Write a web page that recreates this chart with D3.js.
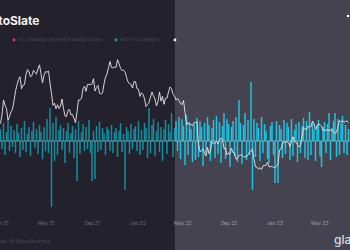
<!DOCTYPE html>
<html>
<head>
<meta charset="utf-8">
<script src="https://cdn.jsdelivr.net/npm/d3@7"></script>
<style>
  html, body { margin: 0; padding: 0; background: #23212c; overflow: hidden; }
  svg { display: block; font-family: Inter, "Liberation Sans", sans-serif; }
</style>
</head>
<body>
<script>
const W = 350, H = 250;

// sampling: every 4 days starting 2021-01-01
const START = '2021-01-01';
const STEP_DAYS = 4;

// BTC price, thousands USD (white line)
const price = [
  29.4, 33.0, 40.0, 37.3, 35.8, 30.8, 32.3, 34.3, 35.5, 39.3,
  44.8, 48.7, 52.1, 54.1, 46.3, 48.4, 48.9, 55.9, 59.3, 57.6,
  54.1, 55.0, 58.8, 57.1, 56.0, 60.0, 63.1, 56.2, 50.0, 55.0,
  57.8, 57.4, 58.2, 49.7, 43.5, 37.3, 38.4, 35.7, 37.6, 35.8,
  37.0, 40.5, 35.8, 32.5, 32.2, 35.0, 35.3, 32.9, 33.1, 31.5,
  29.8, 34.3, 40.0, 39.9, 40.9, 46.3, 47.8, 44.7, 48.9, 49.0,
  48.8, 49.3, 52.7, 44.9, 47.1, 48.3, 43.6, 43.2, 43.8, 49.2,
  53.9, 56.0, 60.9, 65.9, 61.0, 60.6, 61.3, 61.1, 67.5, 64.2,
  60.4, 58.6, 58.9, 57.8, 53.7, 50.6, 49.4, 48.9, 46.7, 50.8,
  50.7, 46.3, 45.9, 41.9, 43.9, 43.1, 40.7, 36.7, 37.7, 38.7,
  41.6, 44.4, 42.2, 40.5, 37.0, 39.2, 44.4, 39.4, 41.9, 37.8,
  40.9, 41.0, 44.3, 47.4, 46.4, 43.2, 42.2, 39.9, 40.8, 39.7,
  38.1, 37.7, 39.7, 34.1, 28.9, 29.8, 29.2, 29.1, 28.6, 29.8,
  29.9, 30.1, 22.5, 20.4, 20.7, 21.2, 20.1, 19.3, 21.6, 19.9,
  20.8, 23.4, 22.6, 22.9, 23.3, 22.6, 23.8, 24.4, 23.9, 21.2,
  21.5, 19.6, 20.1, 19.8, 21.4, 20.2, 20.1, 18.5, 18.8, 19.4,
  19.6, 19.5, 19.1, 19.1, 19.1, 19.6, 20.3, 20.5, 21.2, 18.5,
  16.8, 16.7, 16.3, 16.6, 16.2, 17.0, 17.1, 17.1, 17.8, 16.8,
  16.8, 16.9, 16.6, 16.7, 16.9, 17.4, 20.9, 21.1, 22.9, 23.1,
  23.1, 23.3, 22.9, 21.8, 23.5, 24.8, 23.2, 23.1, 22.4, 21.7,
  22.1, 25.0, 28.0, 27.5, 27.1, 28.5, 28.2, 28.3, 30.4, 29.4,
  27.3, 28.3, 29.3, 29.0, 28.4, 26.9, 27.2, 26.9, 27.2, 26.8,
  27.1, 27.1, 26.5, 25.9, 26.3, 28.3, 30.6, 30.1, 30.6, 29.9,
  30.4, 30.3, 29.9
];

// change series (teal bars), same sampling
const change = [
  12, -8, 18, -14, 9, 21, -10, 15, -6, 11,
  -12, 17, 8, -16, 13, -9, 20, -11, 7, 14,
  -15, 10, 19, -7, 12, -13, 16, 9, -18, 14,
  -10, 22, -12, 33, -66, 18, -20, 24, -14, 11,
  16, -9, 13, -22, 10, 18, -12, 8, 15, -17,
  12, -40, 20, -13, 9, 17, -10, 14, -8, 21,
  -12, -40, 10, -38, 15, -11, 19, -9, 13, 8,
  -14, 14, 11, -10, 16, -12, 9, 13, -16, 10,
  18, -11, 7, -49, 14, 10, -13, 17, -8, 12,
  15, -10, 20, -14, 11, -9, 18, 13, -17, 33,
  -12, 16, 22, -15, 10, 19, -11, 14, -20, 12,
  21, -13, 17, 9, 28, -16, 13, 20, -10, 24,
  -18, 22, 15, -24, 26, -14, 19, 12, -21, 17,
  -19, 23, -16, 20, 14, -25, 18, -12, 24, 16,
  -20, 13, 21, -17, 25, -13, 19, -22, 15, 28,
  -18, 22, 17, -26, 14, 20, -15, 24, -21, 41,
  18, -23, 16, 28, -19, 21, -14, 59, -49, 22,
  -16, 18, 13, -20, 24, -12, 17, 10, -18, -22,
  15, 19, -14, -42, 20, -42, 16, 12, -17, 21,
  -13, 18, 14, -19, 22, -15, 11, 17, -21, 19,
  -12, 15, 23, -17, 20, -19, 29, -14, 18, 12,
  -20, 16, 21, -15, -26, 14, 19, -12, 17, 28,
  -19, 13, 20, 28, -16, 22, -14, 18, 25, -12,
  16, -14, 12
];

const tickDates = ['2021-01-01', '2021-05-01', '2021-09-01', '2022-01-01',
                   '2022-05-01', '2022-09-01', '2023-01-01', '2023-05-01'];
const xDomain = ['2021-01-01', '2023-07-22'];
const highlightFrom = '2022-04-11';

const legendItems = [
  { label: 'BTC: Exchange Net Position Change (7d MA)', color: '#e8336d', x: 14 },
  { label: 'BTC: Price Change %', color: '#17a3b0', x: 116 },
  { label: '', color: '#ffffff', x: 175 }
];

const parse = d3.utcParse('%Y-%m-%d');
const start = parse(START);
const dates = price.map((_, i) => d3.utcDay.offset(start, i * STEP_DAYS));
const rows = dates.map((d, i) => ({ date: d, price: price[i], change: change[i] }));

const svg = d3.select('body').append('svg')
    .attr('width', W)
    .attr('height', H);

const x = d3.scaleUtc()
    .domain(xDomain.map(parse))
    .range([0.5, 350]);

const yPrice = d3.scaleLog()
    .domain([10, 80])
    .range([206.7, 46.6]);

const yChange = d3.scaleLinear()
    .domain([-70, 70])
    .range([211, 71]);

const split = x(parse(highlightFrom));

// backgrounds
svg.append('rect').attr('x', 0).attr('y', 0).attr('width', split).attr('height', H).attr('fill', '#23212c');
svg.append('rect').attr('x', split).attr('y', 0).attr('width', W - split).attr('height', H).attr('fill', '#45434f');

// title (partly cut off on the left)
svg.append('text')
    .attr('x', 39.5).attr('y', 25)
    .attr('text-anchor', 'end')
    .attr('fill', '#f2f2f4')
    .attr('font-size', 12)
    .attr('font-weight', 700)
    .text('CryptoSlate');

// legend
const legend = svg.append('g');
legendItems.forEach(it => {
    legend.append('circle').attr('cx', it.x).attr('cy', 40).attr('r', 1.4).attr('fill', it.color);
    if (it.label) {
        legend.append('text')
            .attr('x', it.x + 4).attr('y', 41.4)
            .attr('font-size', 4)
            .attr('fill', '#4e4c59')
            .text(it.label);
    }
});

// bars
const barW = 1.5;
svg.append('g').selectAll('rect')
    .data(rows)
    .join('rect')
    .attr('x', d => x(d.date) - barW / 2)
    .attr('width', barW)
    .attr('y', d => Math.min(yChange(d.change), yChange(0)))
    .attr('height', d => Math.abs(yChange(d.change) - yChange(0)))
    .attr('fill', d => x(d.date) < split ? '#148d9e' : '#1ec4e4');

// zero line
svg.append('line')
    .attr('x1', 0).attr('x2', W)
    .attr('y1', yChange(0)).attr('y2', yChange(0))
    .attr('stroke', '#8fdbe8')
    .attr('stroke-opacity', 0.7)
    .attr('stroke-width', 0.8);

// price line
const line = d3.line()
    .x(d => x(d.date))
    .y(d => yPrice(d.price));

svg.append('path')
    .datum(rows)
    .attr('d', line)
    .attr('fill', 'none')
    .attr('stroke', '#e8e8ec')
    .attr('stroke-width', 0.9)
    .attr('stroke-linejoin', 'round');

// marker top right
svg.append('circle').attr('cx', 348).attr('cy', 16).attr('r', 1.3).attr('fill', '#ffffff');

// x axis
const xAxis = d3.axisBottom(x)
    .tickValues(tickDates.map(parse))
    .tickFormat(d3.utcFormat('%b %y'))
    .tickSize(0)
    .tickPadding(0);

const gx = svg.append('g')
    .attr('transform', 'translate(0,221)')
    .call(xAxis);
gx.select('.domain').remove();
gx.selectAll('text')
    .attr('font-size', 5)
    .attr('font-family', 'Inter, "Liberation Sans", sans-serif')
    .attr('fill', d => x(d) < split ? '#6f6d7a' : '#9c9aa6');

// footer
svg.append('text')
    .attr('x', 50).attr('y', 243)
    .attr('text-anchor', 'end')
    .attr('font-size', 4.5)
    .attr('fill', '#4e4c59')
    .text('© 2023 Glassnode. All Rights Reserved');

svg.append('text')
    .attr('x', 334).attr('y', 244)
    .attr('font-size', 12)
    .attr('font-weight', 500)
    .attr('fill', '#dcdce0')
    .text('glassnode');
</script>
</body>
</html>
